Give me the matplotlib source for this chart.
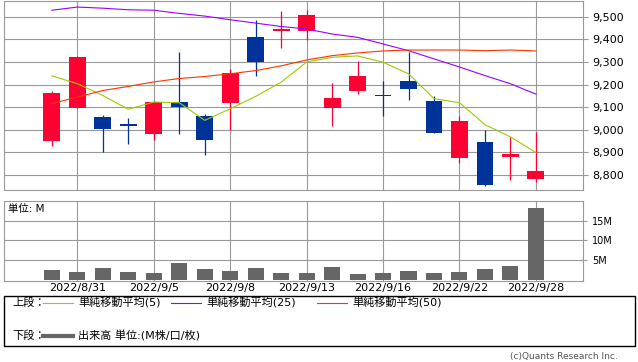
import matplotlib
matplotlib.use("Agg")
import matplotlib.pyplot as plt
from matplotlib.lines import Line2D

plt.rcParams['font.family'] = ['DejaVu Sans', 'Noto Sans CJK JP']

dates = ["2022/8/30", "2022/8/31", "2022/9/1", "2022/9/2", "2022/9/5", "2022/9/6",
         "2022/9/7", "2022/9/8", "2022/9/9", "2022/9/12", "2022/9/13", "2022/9/14",
         "2022/9/15", "2022/9/16", "2022/9/20", "2022/9/21", "2022/9/22", "2022/9/26",
         "2022/9/27", "2022/9/28"]
opens = [8951, 9096, 9055, 9025, 8982, 9121, 9060, 9118, 9412, 9436,
         9435, 9096, 9174, 9155, 9218, 9126, 8876, 8945, 8881, 8784]
highs = [9171, 9328, 9064, 9051, 9126, 9346, 9069, 9267, 9487, 9526,
         9531, 9205, 9306, 9214, 9343, 9149, 9060, 8998, 8969, 8991]
lows = [8929, 9096, 8903, 8938, 8956, 8982, 8890, 9000, 9237, 9361,
        9399, 9016, 9157, 9061, 9130, 8986, 8853, 8753, 8778, 8771]
closes = [9161, 9324, 9004, 9019, 9121, 9101, 8956, 9250, 9302, 9444,
          9509, 9139, 9236, 9150, 9180, 8986, 9038, 8757, 8892, 8818]
ma5 = [9239, 9204, 9152, 9091, 9123, 9120, 9042, 9093, 9148, 9211,
       9300, 9321, 9327, 9299, 9248, 9138, 9120, 9023, 8969, 8900]
ma25 = [9529, 9543, 9538, 9531, 9529, 9515, 9503, 9487, 9472, 9457,
        9446, 9424, 9409, 9380, 9350, 9314, 9278, 9240, 9204, 9158]
ma50 = [9116, 9145, 9174, 9192, 9212, 9227, 9236, 9248, 9262, 9283,
        9309, 9328, 9340, 9349, 9353, 9353, 9353, 9350, 9353, 9349]
volume = [2.5, 2.0, 3.0, 2.0, 1.75, 4.25, 2.75, 2.25, 3.0, 1.75,
          1.75, 3.25, 1.5, 1.75, 2.25, 1.75, 2.0, 2.75, 3.5, 18.25]

up_color = "#ff0033"
down_color = "#003399"
grid_color = "#999999"

W, H = 638, 362
fig = plt.figure(figsize=(W / 100, H / 100), dpi=100)


def box(x0, y0, x1, y1):
    return [x0 / W, 1 - y1 / H, (x1 - x0) / W, (y1 - y0) / H]


x = list(range(len(dates)))
tick_idx = [1, 4, 7, 10, 13, 16, 19]
xlim = (-1.9, 20.85)

# --- price panel
ax = fig.add_axes(box(3.5, 0.5, 583, 190))
for i in x:
    c = up_color if closes[i] >= opens[i] else down_color
    ax.vlines(i, lows[i], highs[i], color=c, lw=0.9, zorder=3)
    lo, hi = min(opens[i], closes[i]), max(opens[i], closes[i])
    ax.bar(i, max(hi - lo, 6), bottom=lo, width=0.66, color=c, zorder=4)
ax.plot(x, ma5, color="#99cc00", lw=0.8, zorder=5)
ax.plot(x, ma25, color="#9900ff", lw=0.8, zorder=5)
ax.plot(x, ma50, color="#ff3300", lw=0.8, zorder=5)
ax.set_xlim(*xlim)
ax.set_ylim(8734, 9572)
ax.set_yticks(range(8800, 9600, 100))
ax.set_yticklabels([f"{v:,}" for v in range(8800, 9600, 100)])
ax.set_xticks(tick_idx)
ax.tick_params(axis="x", length=0, labelbottom=False)
ax.yaxis.tick_right()
ax.tick_params(axis="y", length=3.6, width=0.8, color=grid_color, pad=3, labelsize=8)
ax.grid(True, color=grid_color, lw=0.8, zorder=0)
for s in ax.spines.values():
    s.set_color(grid_color)
    s.set_linewidth(0.8)

# --- volume panel
axv = fig.add_axes(box(3.5, 201, 583, 280.5))
axv.bar(x, volume, width=0.63, color="#666666", zorder=3)
axv.set_xlim(*xlim)
axv.set_ylim(-0.2, 20.05)
axv.set_yticks([5, 10, 15])
axv.set_yticklabels(["5M", "10M", "15M"])
axv.yaxis.tick_right()
axv.tick_params(axis="y", length=3, width=0.8, color=grid_color, pad=3.5, labelsize=7)
axv.set_xticks(tick_idx)
axv.set_xticklabels([dates[i] for i in tick_idx])
axv.tick_params(axis="x", length=0, pad=2, labelsize=8)
axv.grid(True, color=grid_color, lw=0.8, zorder=0)
for s in axv.spines.values():
    s.set_color(grid_color)
    s.set_linewidth(0.8)
axv.text(0.008, 0.9, "単位: M", transform=axv.transAxes, fontsize=7.5, va="center", ha="left")

# --- legend box
fig.patches.append(plt.Rectangle((3.5 / W, 1 - 345.5 / H), 631 / W, 50 / H,
                                 transform=fig.transFigure, fill=False,
                                 edgecolor="black", lw=1))
row1 = 1 - 303 / H
row2 = 1 - 336 / H
fig.text(12 / W, row1, "上段：", fontsize=8, va="center")
fig.text(12 / W, row2, "下段：", fontsize=8, va="center")
legend_items = [(43, "#99cc00", "単純移動平均(5)"),
                (171, "#9900ff", "単純移動平均(25)"),
                (317, "#ff3300", "単純移動平均(50)")]
for x0, col, lab in legend_items:
    fig.add_artist(Line2D([x0 / W, (x0 + 30) / W], [row1, row1], color=col, lw=0.8,
                          transform=fig.transFigure))
    fig.text((x0 + 35) / W, row1, lab, fontsize=8, va="center")
fig.add_artist(Line2D([43 / W, 73 / W], [row2, row2], color="#666666", lw=3,
                      transform=fig.transFigure))
fig.text(78 / W, row2, "出来高 単位:(M株/口/枚)", fontsize=8, va="center")

fig.text(618 / W, 1 - 357 / H, "(c)Quants Research Inc.", fontsize=6.5,
         color="#555555", ha="right", va="center")

fig.savefig("out.png", dpi=100)
